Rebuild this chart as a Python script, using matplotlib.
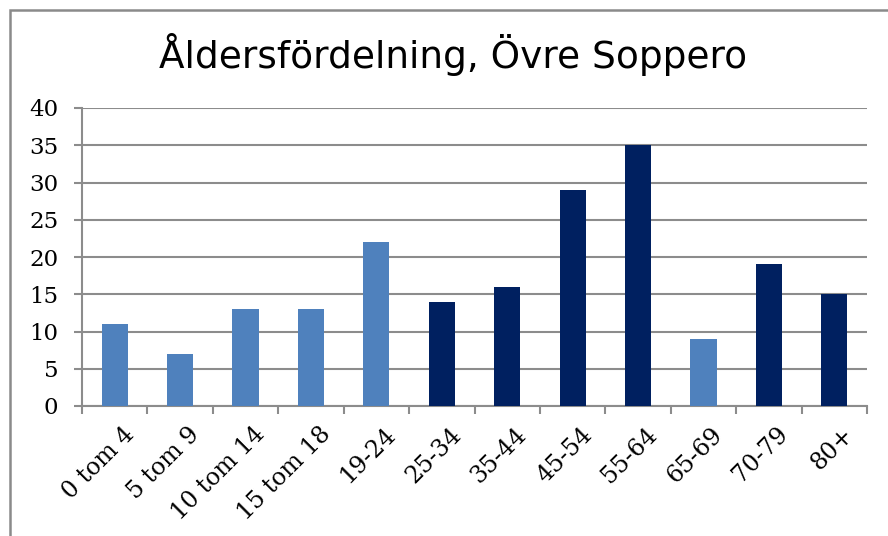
import matplotlib
matplotlib.use("Agg")
import matplotlib.pyplot as plt
from matplotlib.patches import Rectangle

categories = ["0 tom 4", "5 tom 9", "10 tom 14", "15 tom 18", "19-24", "25-34",
              "35-44", "45-54", "55-64", "65-69", "70-79", "80+"]
values = [11, 7, 13, 13, 22, 14, 16, 29, 35, 9, 19, 15]
is_light = [True, True, True, True, True, False, False, False, False, True, False, False]
yticks = [0, 5, 10, 15, 20, 25, 30, 35, 40]

LIGHT = "#4F81BD"
DARK = "#002060"
GRID = "#8c8c8c"

W, H = 888, 536
fig = plt.figure(figsize=(W / 100, H / 100), dpi=100)
fig.patch.set_facecolor("white")

# outer chart frame (extends beyond right/bottom edges)
fig.patches.append(Rectangle((10 / W, -0.1), 1.2, 1 - 10 / H + 0.1, transform=fig.transFigure,
                             fill=False, edgecolor="#8a8a8a", linewidth=1.8))

left, right, top, bottom = 82, 867, 108, 406
ax = fig.add_axes([left / W, 1 - bottom / H, (right - left) / W, (bottom - top) / H])

x = list(range(len(categories)))
colors = [LIGHT if l else DARK for l in is_light]
ax.bar(x, values, width=0.4, color=colors, zorder=3)

ax.set_xlim(-0.5, len(categories) - 0.5)
ax.set_ylim(0, 40)
ax.set_yticks(yticks)
ax.set_yticklabels([str(v) for v in yticks], fontfamily="DejaVu Serif",
                   fontsize=16.5, fontweight="normal")
ax.yaxis.grid(True, color=GRID, linewidth=1.5, zorder=0)
ax.set_axisbelow(True)

ax.set_xticks([i + 0.12 for i in x])
ax.set_xticklabels(categories, rotation=45, ha="right", va="top", rotation_mode="anchor",
                   fontfamily="DejaVu Serif", fontsize=17)
ax.tick_params(axis="x", length=0, pad=12)
ax.set_xticks([i - 0.5 for i in range(len(categories) + 1)], minor=True)
ax.tick_params(axis="x", which="minor", length=6, width=1.5, color=GRID)
ax.tick_params(axis="y", length=6, width=1.5, color=GRID, pad=11)

for s in ["top", "right"]:
    ax.spines[s].set_visible(False)
for s in ["left", "bottom"]:
    ax.spines[s].set_color(GRID)
    ax.spines[s].set_linewidth(1.5)

fig.text(453 / W, 1 - 55 / H, "Åldersfördelning, Övre Soppero", ha="center", va="center",
         fontfamily="DejaVu Sans", fontsize=27)

fig.savefig("out.png", dpi=100)
